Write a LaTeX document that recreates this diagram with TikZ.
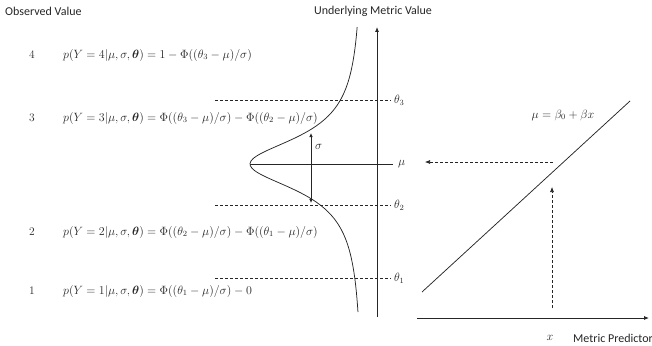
\documentclass[tikz,border=0pt]{standalone}
\usepackage{amsmath,bm}
\usepackage{fontspec}
\setsansfont{Carlito}
\usetikzlibrary{arrows.meta}
\colorlet{ink}{black!85}
\tikzset{
  lbl/.style={font=\sffamily\fontsize{12}{14}\selectfont, inner sep=0pt, text=ink},
  fml/.style={font=\fontsize{11.6}{14}\selectfont, anchor=west, inner sep=0pt, text=ink},
  num/.style={font=\fontsize{11.5}{14}\selectfont, inner sep=0pt, text=ink},
  dsh/.style={draw=ink, dash pattern=on 3pt off 2pt, line width=0.6pt},
  ln/.style={draw=ink, line width=0.75pt},
  axarrow/.style={draw=ink, -{Latex[length=5pt,width=4pt]}, line width=0.8pt},
  dsharrow/.style={dsh, -{Latex[length=5pt,width=4pt]}},
  sigarrow/.style={draw=ink, {Latex[length=4pt,width=3.5pt]}-{Latex[length=4pt,width=3.5pt]}, line width=0.7pt}
}
\begin{document}
\begin{tikzpicture}[x=1pt,y=-1pt]
\useasboundingbox (0,0) rectangle (652,345);
% titles
\node[lbl, anchor=west] (obs) at (5,11) {Observed Value};
\node[lbl] (umv) at (373,11) {Underlying Metric Value};
% numbers and formulas
\node[num] (n4) at (32,55) {4};
\node[num] (n3) at (32,118) {3};
\node[num] (n2) at (32,232) {2};
\node[num] (n1) at (32,291) {1};
\node[fml] (f4) at (63,55) {$p(Y=4|\mu,\sigma,\bm{\theta})=1-\Phi((\theta_3-\mu)/\sigma)$};
\node[fml] (f3) at (63,118) {$p(Y=3|\mu,\sigma,\bm{\theta})=\Phi((\theta_3-\mu)/\sigma)-\Phi((\theta_2-\mu)/\sigma)$};
\node[fml] (f2) at (63,232) {$p(Y=2|\mu,\sigma,\bm{\theta})=\Phi((\theta_2-\mu)/\sigma)-\Phi((\theta_1-\mu)/\sigma)$};
\node[fml] (f1) at (63,291) {$p(Y=1|\mu,\sigma,\bm{\theta})=\Phi((\theta_1-\mu)/\sigma)-0$};
% vertical axis
\coordinate (axB) at (377,317);
\coordinate (axT) at (377,27);
\draw[axarrow] (axB) -- (axT);
% thresholds
\coordinate (t3L) at (215,100); \coordinate (t3R) at (391,100);
\coordinate (t2L) at (215,205); \coordinate (t2R) at (391,205);
\coordinate (t1L) at (215,278); \coordinate (t1R) at (391,278);
\draw[dsh] (t3L) -- (t3R);
\draw[dsh] (t2L) -- (t2R);
\draw[dsh] (t1L) -- (t1R);
\node[num, anchor=west] (th3) at (394,100) {$\theta_3$};
\node[num, anchor=west] (th2) at (394,205) {$\theta_2$};
\node[num, anchor=west] (th1) at (394,278) {$\theta_1$};
% mu line
\coordinate (muL) at (250,164); \coordinate (muR) at (393,164);
\draw[ln] (muL) -- (muR);
\node[num, anchor=west] (mu) at (398,164) {$\mu$};
% density curve
\draw[ln] plot[domain=27:312, samples=120, smooth] ({363-113/(1+((\x-164)/32)^2)}, \x);
% sigma
\coordinate (sT) at (311,133); \coordinate (sB) at (311,203);
\draw[sigarrow] (sT) -- (sB);
\node[num, anchor=west] (sig) at (315,147) {$\sigma$};
% right panel
\coordinate (lnA) at (422,292); \coordinate (lnB) at (630,101);
\draw[ln] (lnA) -- (lnB);
\node[num] (eq) at (563,115) {$\mu=\beta_0+\beta x$};
\coordinate (hS) at (553,162); \coordinate (hE) at (425,162);
\draw[dsharrow] (hS) -- (hE);
\coordinate (vS) at (552,308); \coordinate (vE) at (552,187);
\draw[dsharrow] (vS) -- (vE);
\coordinate (xaL) at (417,318); \coordinate (xaR) at (649,318);
\draw[axarrow] (xaL) -- (xaR);
\node[num] (xl) at (550,338) {$x$};
\node[lbl, anchor=west] (mp) at (573,338) {Metric Predictor};
\end{tikzpicture}
\end{document}
